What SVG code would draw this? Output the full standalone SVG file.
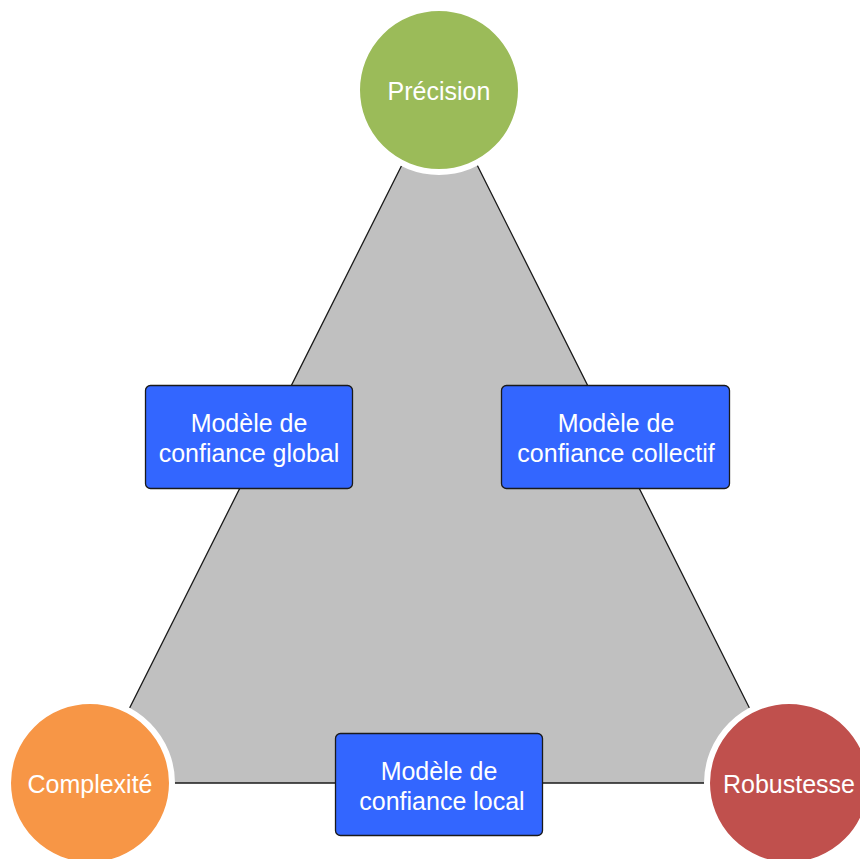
<svg xmlns="http://www.w3.org/2000/svg" width="860" height="859" viewBox="0 0 860 859">
<style>
.t{font-family:"Liberation Sans",Arial,sans-serif;font-size:25px;fill:#ffffff;text-anchor:middle;dominant-baseline:central}
.circ{stroke:#ffffff;stroke-width:6}
.box{fill:#3366ff;stroke:#1a1a1a;stroke-width:1.3}
</style>
<rect width="860" height="859" fill="#ffffff"/>
<g id="connectors">
<polygon points="439.5,90 92,783 787,783" fill="#c0c0c0" stroke="#1a1a1a" stroke-width="1.3"/>
</g>
<g id="precision">
<circle class="circ" cx="439" cy="90" r="82" fill="#9bbb59"/>
<text class="t" x="439" y="91">Précision</text>
</g>
<g id="complexite">
<circle class="circ" cx="90" cy="783" r="82" fill="#f79646"/>
<text class="t" x="90" y="784">Complexité</text>
</g>
<g id="robustesse">
<circle class="circ" cx="789" cy="783" r="82" fill="#c0504d"/>
<text class="t" x="789" y="784">Robustesse</text>
</g>
<g id="global">
<rect class="box" x="145.5" y="385.5" width="207" height="103" rx="5"/>
<text class="t" x="249" y="423">Modèle de</text>
<text class="t" x="249" y="453">confiance global</text>
</g>
<g id="collectif">
<rect class="box" x="501.5" y="385.5" width="228" height="103" rx="5"/>
<text class="t" x="616" y="423">Modèle de</text>
<text class="t" x="616" y="453">confiance collectif</text>
</g>
<g id="local">
<rect class="box" x="335.5" y="733.5" width="207" height="102" rx="5"/>
<text class="t" x="439" y="771">Modèle de</text>
<text class="t" x="442" y="801">confiance local</text>
</g>
</svg>
